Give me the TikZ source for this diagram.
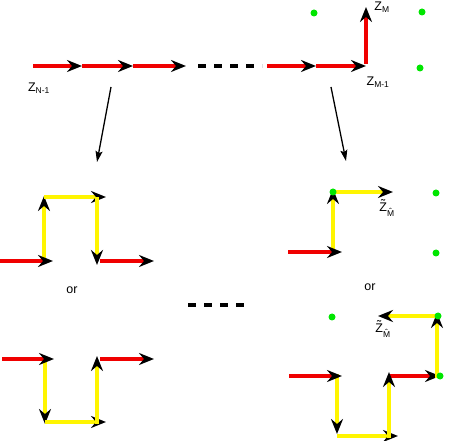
\documentclass[tikz,border=0pt]{standalone}
\usepackage{fontspec}
\setmainfont{Liberation Sans}
\usetikzlibrary{arrows.meta}
\definecolor{rd}{RGB}{240,0,0}
\definecolor{yl}{RGB}{255,245,0}
\definecolor{gr}{RGB}{0,230,0}
\tikzset{
  seg/.style={line width=3.6pt,-{Stealth[black,length=15pt,width=12pt,inset=5pt]}},
  redseg/.style={seg,draw=rd},
  yelseg/.style={seg,draw=yl},
  mapto/.style={line width=1.3pt,-{Stealth[length=11pt,width=7pt,inset=2pt]}},
  dots/.style={line width=4pt,dash pattern=on 8pt off 8pt},
  gdot/.style={circle,fill=gr,inner sep=0pt,minimum size=7pt},
  lbl/.style={inner sep=0pt,font=\fontsize{12.5}{14}\selectfont},
}
\newlength{\zwd}
\newcommand{\zsub}[1]{Z\textsubscript{\fontsize{8.5}{9}\selectfont #1}}
\newcommand{\acc}[2]{\settowidth{\zwd}{#2}\makebox[0pt][l]{\makebox[\zwd][c]{#1}}#2}
\newcommand{\ztil}{\acc{\raisebox{3.5pt}{˜}}{Z}\textsubscript{\fontsize{8.5}{9}\selectfont\acc{\raisebox{2.5pt}{ˆ}}{M}}}
\begin{document}
\begin{tikzpicture}[x=1pt,y=-1pt]
\useasboundingbox (0,0) rectangle (464,441);
% ---------- top row ----------
\coordinate (a0) at (33,66);
\coordinate (a1) at (82,66);
\coordinate (a2) at (133,66);
\coordinate (a3) at (186,66);
\coordinate (d0) at (198,66);
\coordinate (d1) at (262,66);
\coordinate (b0) at (267,66);
\coordinate (b1) at (316,66);
\coordinate (b2) at (366,66);
\coordinate (b3) at (366,7);
\draw[redseg] (a0) -- (a1);
\draw[redseg] (a1) -- (a2);
\draw[redseg] (a2) -- (a3);
\draw[dots] (d0) -- (d1);
\draw[redseg] (b0) -- (b1);
\draw[redseg] (b1) -- (b2);
\draw[redseg] ([yshift=1.8pt]b2) -- (b3);
\node[gdot] (g1) at (314,13) {};
\node[gdot] (g2) at (422,12) {};
\node[gdot] (g3) at (420,68) {};
\node[lbl] (zn) at (39,88) {\zsub{N-1}};
\node[lbl] (zm) at (382,7) {\zsub{M}};
\node[lbl] (zm1) at (378,82) {\zsub{M-1}};
% mapping arrows
\coordinate (m1s) at (111,87);
\coordinate (m1e) at (97,162);
\coordinate (m2s) at (331,87);
\coordinate (m2e) at (346,161);
\draw[mapto] (m1s) -- (m1e);
\draw[mapto] (m2s) -- (m2e);
% ---------- lower left, upper ----------
\coordinate (p0) at (0,261);
\coordinate (p1) at (53,261);
\coordinate (p2) at (44,263);
\coordinate (p3) at (44,196);
\coordinate (p4) at (44,197);
\coordinate (p5) at (106,197);
\coordinate (p6) at (97,197);
\coordinate (p7) at (97,265);
\coordinate (p8) at (100,261);
\coordinate (p9) at (154,261);
\draw[yelseg] (p2) -- (p3);
\draw[yelseg] (p4) -- (p5);
\draw[yelseg] (p6) -- (p7);
\draw[redseg] (p0) -- (p1);
\draw[redseg] (p8) -- (p9);
\node[lbl] (or1) at (72,290) {or};
% ---------- lower left, lower ----------
\coordinate (q0) at (2,359);
\coordinate (q1) at (54,359);
\coordinate (q2) at (45,357);
\coordinate (q3) at (45,424);
\coordinate (q4) at (45,422);
\coordinate (q5) at (106,422);
\coordinate (q6) at (97,424);
\coordinate (q7) at (97,356);
\coordinate (q8) at (100,359);
\coordinate (q9) at (154,359);
\draw[yelseg] (q2) -- (q3);
\draw[yelseg] (q4) -- (q5);
\draw[yelseg] (q6) -- (q7);
\draw[redseg] (q0) -- (q1);
\draw[redseg] (q8) -- (q9);
% middle dashes
\coordinate (e0) at (188,305);
\coordinate (e1) at (244,305);
\draw[dots] (e0) -- (e1);
% ---------- lower right, upper ----------
\coordinate (r0) at (288,252);
\coordinate (r1) at (342,252);
\coordinate (r2) at (333,254);
\coordinate (r3) at (333,189);
\coordinate (r4) at (333,192);
\coordinate (r5) at (393,192);
\draw[yelseg] (r2) -- (r3);
\draw[yelseg] (r4) -- (r5);
\draw[redseg] (r0) -- (r1);
\node[gdot] (g4) at (333,192) {};
\node[gdot] (g5) at (436,193) {};
\node[gdot] (g6) at (436,253) {};
\node[lbl] (zt1) at (387,208) {\ztil};
\node[lbl] (or2) at (370,287) {or};
% ---------- lower right, lower ----------
\coordinate (s0) at (289,376);
\coordinate (s1) at (342,376);
\coordinate (s2) at (337,374);
\coordinate (s3) at (337,434);
\coordinate (s4) at (337,436);
\coordinate (s5) at (398,436);
\coordinate (s6) at (389,438);
\coordinate (s7) at (389,372);
\coordinate (s8) at (388,376);
\coordinate (s9) at (440,376);
\coordinate (s10) at (437,378);
\coordinate (s11) at (437,313);
\coordinate (s12) at (437,316);
\coordinate (s13) at (378,316);
\draw[yelseg] (s2) -- (s3);
\draw[yelseg] (s4) -- (s5);
\draw[redseg] (s8) -- (s9);
\draw[yelseg] (s6) -- (s7);
\draw[yelseg] (s10) -- (s11);
\draw[yelseg] (s12) -- (s13);
\draw[redseg] (s0) -- (s1);
\node[gdot] (g7) at (332,317) {};
\node[gdot] (g8) at (440,376) {};
\node[gdot] (g9) at (438,316) {};
\node[lbl] (zt2) at (383,329) {\ztil};
\end{tikzpicture}
\end{document}
